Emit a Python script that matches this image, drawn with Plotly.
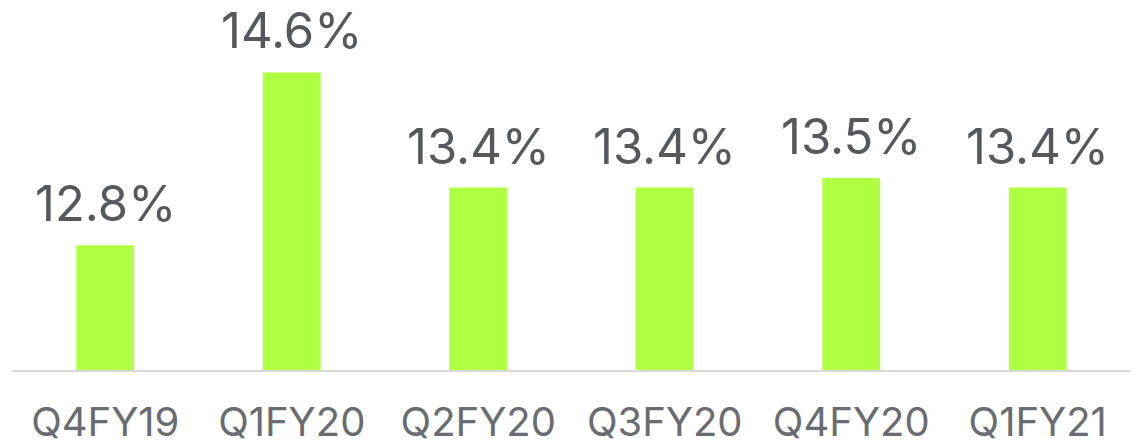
import plotly.graph_objects as go

categories = ["Q4FY19", "Q1FY20", "Q2FY20", "Q3FY20", "Q4FY20", "Q1FY21"]
values = [12.8, 14.6, 13.4, 13.4, 13.5, 13.4]
labels = [f"{v:.1f}%" for v in values]

fig = go.Figure()
fig.add_trace(go.Bar(
    x=categories, y=values,
    marker=dict(color="#AFFF43", line=dict(width=0)),
    cliponaxis=False,
))

for c, v, t in zip(categories, values, labels):
    fig.add_annotation(
        x=c, y=v, text=t, showarrow=False,
        yanchor="bottom", yshift=10,
        font=dict(family="Inter", size=49, color="#55585D"),
    )

fig.update_layout(
    width=1140, height=447,
    margin=dict(l=12, r=9, t=10, b=77, autoexpand=False),
    paper_bgcolor="white", plot_bgcolor="white",
    bargap=0.69,
    showlegend=False,
    font=dict(family="Inter"),
)
fig.update_xaxes(
    showline=True, linecolor="#D9D9D9", linewidth=2,
    showgrid=False, ticks="", automargin=False,
    tickfont=dict(family="Inter", size=40, color="#696C70"),
    ticklabelstandoff=16,
)
fig.update_yaxes(
    range=[11.5, 15.25], visible=False, showgrid=False, automargin=False,
)

fig.write_html(
    "out.html",
    config={"displayModeBar": False},
    post_script="document.body.style.margin='0';document.body.style.overflow='hidden';",
)
